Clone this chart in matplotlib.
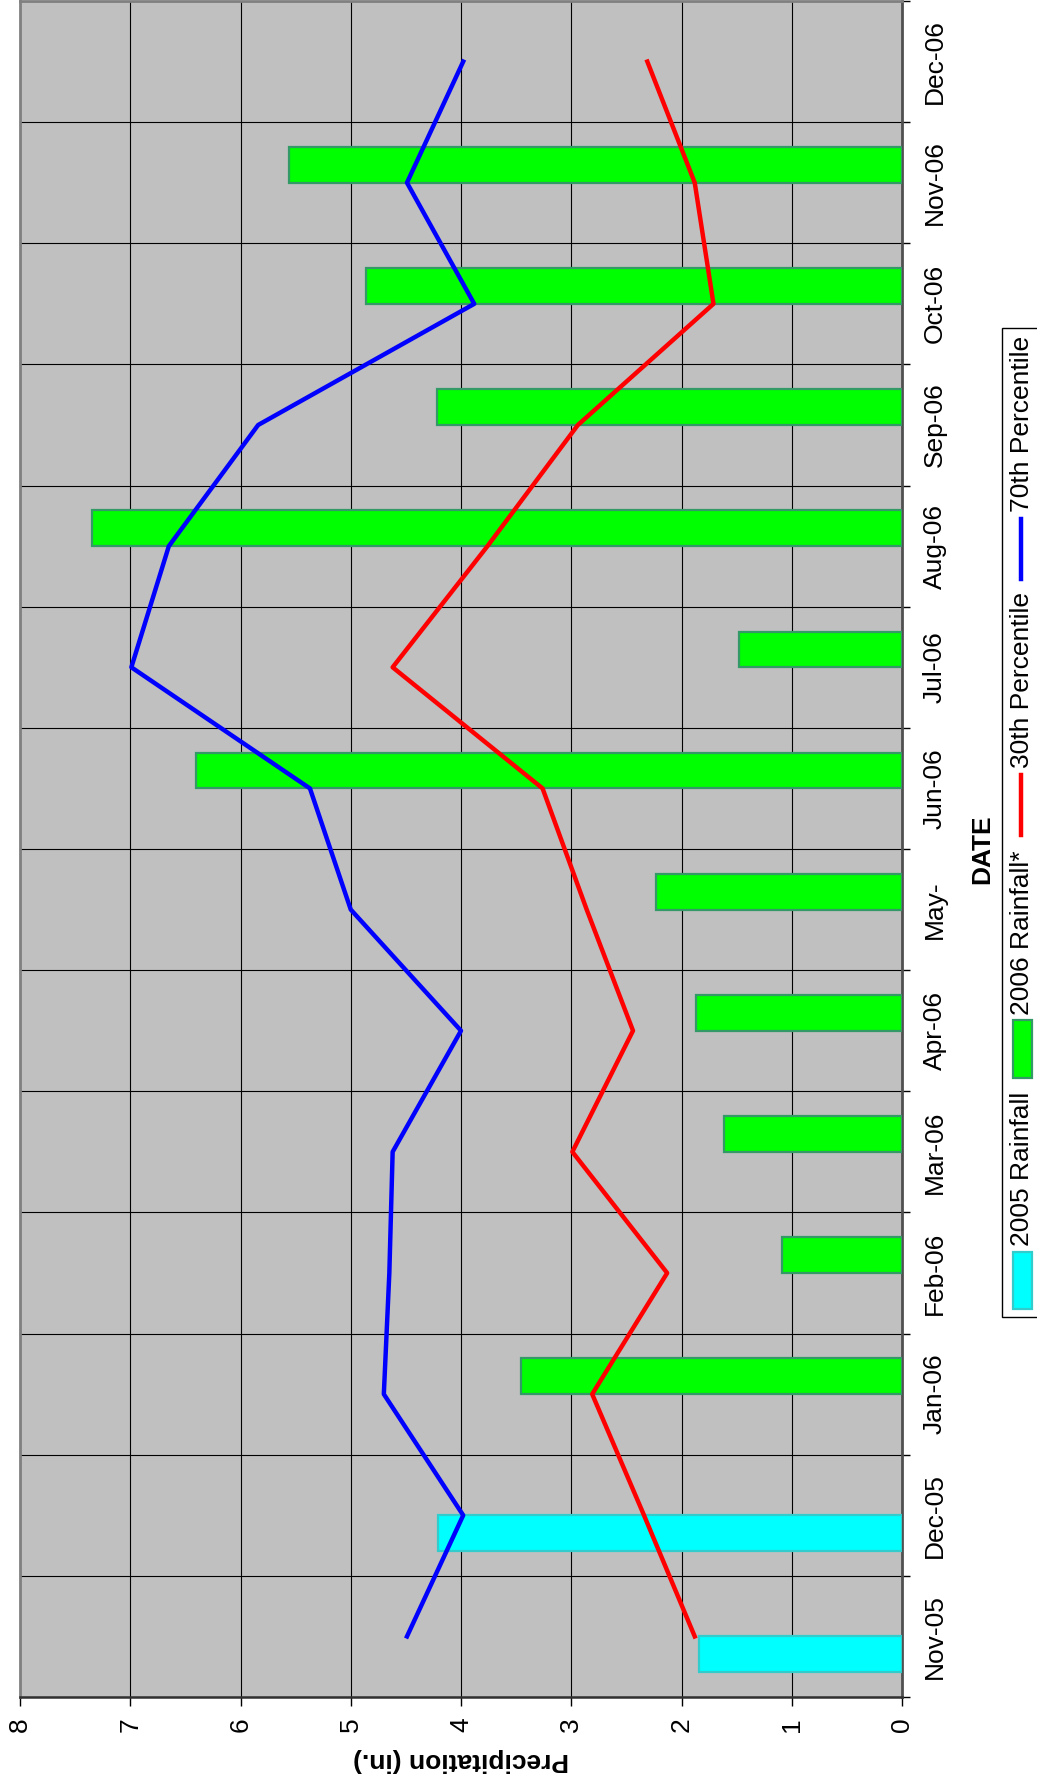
import matplotlib
matplotlib.use('Agg')
import matplotlib.pyplot as plt
import numpy as np
from matplotlib.patches import Rectangle
from matplotlib.lines import Line2D

nan = np.nan

# chart data
months = ['Nov-05', 'Dec-05', 'Jan-06', 'Feb-06', 'Mar-06', 'Apr-06', 'May-',
          'Jun-06', 'Jul-06', 'Aug-06', 'Sep-06', 'Oct-06', 'Nov-06', 'Dec-06']
rain_2005 = [1.84, 4.21, nan, nan, nan, nan, nan, nan, nan, nan, nan, nan, nan, nan]
rain_2006 = [nan, nan, 3.46, 1.09, 1.61, 1.87, 2.23, 6.40, 1.48, 7.35, 4.22, 4.86, 5.56, nan]
pct_30 = [1.88, 2.34, 2.81, 2.13, 2.99, 2.44, 2.86, 3.26, 4.62, 3.76, 2.94, 1.71, 1.88, 2.31]
pct_70 = [4.49, 3.98, 4.70, 4.65, 4.62, 4.00, 5.00, 5.37, 6.99, 6.65, 5.84, 3.88, 4.49, 3.98]
value_ticks = [0, 1, 2, 3, 4, 5, 6, 7, 8]

plt.rcParams['font.family'] = ['Liberation Sans', 'DejaVu Sans']

W, H = 1037, 1785
LW = 3.2
fig = plt.figure(figsize=(W / 100, H / 100), dpi=100)

# chart is drawn turned on its side: dates run bottom->top, values right->left
ax = fig.add_axes([20 / W, 1 - 1697 / H, 882 / W, 1696 / H])
ax.set_facecolor('#C0C0C0')

pos = np.arange(len(months))
bw = 0.295
ax.barh(pos - bw / 2, rain_2005, height=bw, color='#00FFFF', edgecolor='#33CCCC', lw=1.6, zorder=3)
ax.barh(pos + bw / 2, rain_2006, height=bw, color='#00FF00', edgecolor='#339966', lw=1.6, zorder=3)
ax.plot(pct_30, pos, color='#FF0000', lw=LW, zorder=4)
ax.plot(pct_70, pos, color='#0000FF', lw=LW, zorder=4)

ax.set_xlim(8, 0)
ax.set_ylim(-0.5, len(months) - 0.5)

ax.set_xticks(value_ticks)
ax.set_xticklabels([str(v) for v in value_ticks], rotation=90)
ax.tick_params(axis='x', direction='out', length=6.5, width=1, pad=8, labelsize=19)

ax.yaxis.tick_right()
ax.set_yticks(pos)
ax.set_yticklabels(months, rotation=90, va='center')
ax.set_yticks(np.arange(-0.5, len(months)), minor=True)
ax.tick_params(axis='y', which='major', length=0, pad=15, labelsize=19)
ax.tick_params(axis='y', which='minor', length=6, width=1, direction='out')

ax.grid(True, axis='x', which='major', color='black', lw=0.8)
ax.grid(True, axis='y', which='minor', color='black', lw=0.8)
ax.set_axisbelow(True)

ax.spines['left'].set_color('#808080')
ax.spines['top'].set_color('#808080')
ax.spines['left'].set_linewidth(2)
ax.spines['top'].set_linewidth(2)
ax.spines['right'].set_color('#505050')
ax.spines['right'].set_linewidth(2)
ax.spines['bottom'].set_color('#303030')
ax.spines['bottom'].set_linewidth(1.8)

ax.set_xlabel('Precipitation (in.)', fontsize=19, fontweight='bold', rotation=180)
ax.xaxis.label.set_va('center')
ax.xaxis.set_label_coords(0.5, -0.0371)

ax.set_ylabel('DATE', fontsize=19, fontweight='bold', rotation=90)
ax.yaxis.set_label_position('right')
ax.yaxis.label.set_rotation_mode('default')
ax.yaxis.label.set_ha('center')
ax.yaxis.label.set_va('center')
ax.yaxis.set_label_coords((982 - 20) / 882, 0.5)

# legend, built by hand because it is turned too
def fx(x):
    return x / W

def fy(y):
    return 1 - y / H

fig.add_artist(Rectangle((fx(1002), fy(1317)), fx(60), (1317 - 328) / H,
                         transform=fig.transFigure, facecolor='white',
                         edgecolor='black', lw=1))
fig.add_artist(Rectangle((fx(1013), fy(1309)), fx(19), 57 / H, transform=fig.transFigure,
                         facecolor='#00FFFF', edgecolor='#33CCCC', lw=1.6))
fig.add_artist(Rectangle((fx(1013), fy(1078)), fx(19), 58 / H, transform=fig.transFigure,
                         facecolor='#00FF00', edgecolor='#339966', lw=1.6))
fig.add_artist(Line2D([fx(1021), fx(1021)], [fy(835), fy(775)], transform=fig.transFigure,
                      color='#FF0000', lw=LW))
fig.add_artist(Line2D([fx(1021), fx(1021)], [fy(579), fy(519)], transform=fig.transFigure,
                      color='#0000FF', lw=LW))
for label, ybot in [('2005 Rainfall', 1246), ('2006 Rainfall*', 1015),
                    ('30th Percentile', 768), ('70th Percentile', 512)]:
    fig.text(fx(1022), fy(ybot), label, rotation=90, ha='center', va='bottom', fontsize=19)

fig.savefig('out.png', dpi=100)
